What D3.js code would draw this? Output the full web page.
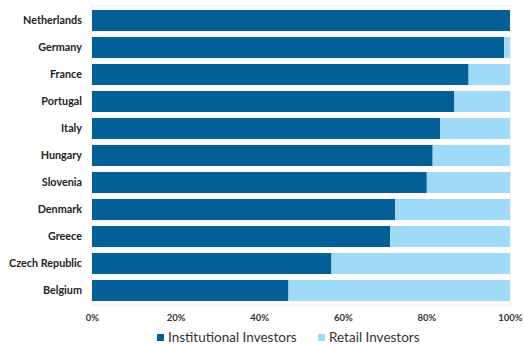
<!DOCTYPE html>
<html><head><meta charset="utf-8">
<script src="https://cdn.jsdelivr.net/npm/d3@7"></script>
<style>body{margin:0;background:#fff;} svg{display:block;}</style>
</head><body>
<svg id="c" width="524" height="345"></svg>
<script>
const categories = ["Netherlands","Germany","France","Portugal","Italy","Hungary","Slovenia","Denmark","Greece","Czech Republic","Belgium"];
const institutional = [100, 98.6, 90.1, 86.7, 83.3, 81.5, 80.1, 72.5, 71.3, 57.3, 47.0];
const retail = institutional.map(v => 100 - v);
const seriesNames = ["Institutional Investors","Retail Investors"];
const colors = ["#045f96","#9fdaf8"];
const tickValues = [0,20,40,60,80,100];

const svg = d3.select("#c");
const font = "Lato, 'Open Sans', sans-serif";
const x = d3.scaleLinear().domain([0,100]).range([92,510]);
const y = d3.scaleBand().domain(categories).range([7,304]).paddingInner(0.22).paddingOuter(0.11);

svg.append("rect").attr("x",x(0)).attr("y",6).attr("width",x(100)-x(0)).attr("height",299)
  .attr("fill","none").attr("stroke","#ececec").attr("stroke-width",1);

const data = categories.map((c,i)=>({c, a:institutional[i], b:retail[i]}));
svg.append("g").selectAll("rect").data(data).join("rect")
  .attr("x",d=>x(0)).attr("y",d=>y(d.c)).attr("width",d=>x(d.a)-x(0)).attr("height",y.bandwidth()).attr("fill",colors[0]);
svg.append("g").selectAll("rect").data(data).join("rect")
  .attr("x",d=>x(d.a)).attr("y",d=>y(d.c)).attr("width",d=>x(d.a+d.b)-x(d.a)).attr("height",y.bandwidth()).attr("fill",colors[1]);

const ya = svg.append("g").attr("transform",`translate(${x(0)},0)`).call(d3.axisLeft(y).tickSize(0).tickPadding(10));
ya.select(".domain").remove();
ya.selectAll("text").attr("font-family",font).attr("font-weight","bold").attr("font-size","10.8px").attr("fill","#222");

const xa = svg.append("g").attr("transform",`translate(0,305)`).call(d3.axisBottom(x).tickValues(tickValues).tickFormat(d=>d+"%").tickSize(0).tickPadding(9));
xa.select(".domain").remove();
xa.selectAll("text").attr("font-family",font).attr("font-weight","bold").attr("font-size","9.5px").attr("fill","#333");

const lg = svg.append("g");
const legendX = [157, 318];
seriesNames.forEach((n,i)=>{
  lg.append("rect").attr("x",legendX[i]).attr("y",334).attr("width",7).attr("height",7).attr("fill",colors[i]);
  lg.append("text").attr("x",legendX[i]+11).attr("y",342).attr("font-family",font).attr("font-size","13.5px").attr("fill","#333").text(n);
});
</script>
</body></html>
